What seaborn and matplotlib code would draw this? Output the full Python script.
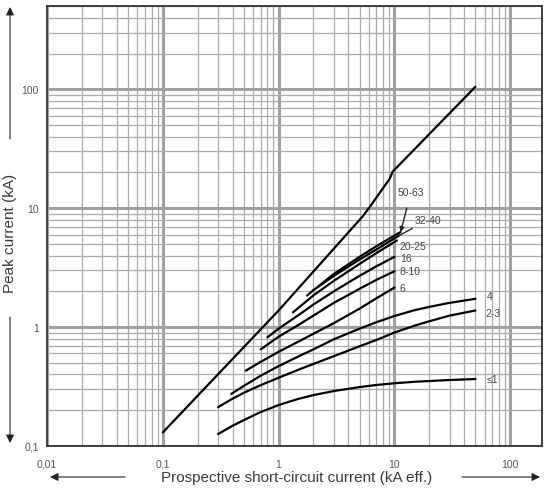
import matplotlib
matplotlib.use("Agg")
import matplotlib.pyplot as plt
import seaborn as sns
import pandas as pd
import numpy as np
from matplotlib.ticker import FixedLocator, LogLocator, NullFormatter

# ---------------- data ----------------
x_ticks = [0.01, 0.1, 1, 10, 100]
x_tick_labels = ["0,01", "0,1", "1", "10", "100"]
y_ticks = [0.1, 1, 10, 100]
y_tick_labels = ["0,1", "1", "10", "100"]

# unlimited peak line
main_x = [0.1, 1, 5.3, 6.1, 9.1, 9.65, 50]
main_y = [0.13, 1.38, 8.5, 10.2, 17.7, 20.3, 105]

c_le1_x = [0.3, 0.4, 0.5, 0.7, 1, 1.5, 2, 3, 5, 7, 10, 15, 20, 30, 50]
c_le1_y = [0.126, 0.148, 0.165, 0.193, 0.221, 0.25, 0.268, 0.29, 0.313, 0.326, 0.337, 0.347, 0.352, 0.359, 0.366]
c_23_x = [0.3, 0.4, 0.5, 0.7, 1, 1.5, 2, 3, 5, 7, 10, 15, 20, 30, 50]
c_23_y = [0.212, 0.25, 0.28, 0.325, 0.375, 0.44, 0.49, 0.57, 0.69, 0.78, 0.9, 1.03, 1.12, 1.25, 1.38]
c_4_x = [0.39, 0.5, 0.7, 1, 1.5, 2, 3, 5, 7, 10, 15, 20, 30, 50]
c_4_y = [0.274, 0.32, 0.39, 0.47, 0.57, 0.65, 0.79, 0.97, 1.1, 1.24, 1.39, 1.48, 1.6, 1.73]
c_6_x = [0.52, 0.7, 1, 1.5, 2, 3, 5, 7, 10]
c_6_y = [0.43, 0.51, 0.62, 0.76, 0.88, 1.08, 1.43, 1.75, 2.15]
c_810_x = [0.7, 1, 1.5, 2, 3, 5, 7, 10]
c_810_y = [0.65, 0.83, 1.05, 1.25, 1.6, 2.1, 2.5, 2.95]
c_16_x = [0.8, 1, 1.5, 2, 3, 5, 7, 10]
c_16_y = [0.82, 0.97, 1.27, 1.55, 2.0, 2.7, 3.25, 3.9]
c_2025_x = [1.33, 2, 3, 5, 7, 10.5]
c_2025_y = [1.33, 1.85, 2.45, 3.4, 4.2, 5.35]
c_3240_x = [1.76, 2, 3, 5, 7, 11]
c_3240_y = [1.84, 2.05, 2.7, 3.7, 4.5, 5.9]
c_5063_x = [2.2, 3, 5, 7, 11.3]
c_5063_y = [2.2, 2.8, 3.9, 4.8, 6.3]

curve_names = ["main", "≤1", "2-3", "4", "6", "8-10", "16", "20-25", "32-40", "50-63"]
curve_xs = [main_x, c_le1_x, c_23_x, c_4_x, c_6_x, c_810_x, c_16_x, c_2025_x, c_3240_x, c_5063_x]
curve_ys = [main_y, c_le1_y, c_23_y, c_4_y, c_6_y, c_810_y, c_16_y, c_2025_y, c_3240_y, c_5063_y]

rows = []
for name, xs, ys in zip(curve_names, curve_xs, curve_ys):
    for i, (xv, yv) in enumerate(zip(xs, ys)):
        rows.append({"curve": name, "order": i, "x": xv, "y": yv})
df = pd.DataFrame(rows)

# ---------------- style ----------------
sns.set_style("white")
plt.rcParams["font.family"] = ["Liberation Sans", "DejaVu Sans"]

W, H = 548, 489
fig = plt.figure(figsize=(W / 100, H / 100), dpi=100)
L, R, T, B = 47, 542, 6.7, 447
ax = fig.add_axes([L / W, 1 - B / H, (R - L) / W, (B - T) / H])

ax.set_xscale("log")
ax.set_yscale("log")
ax.set_xlim(0.01, 188)
ax.set_ylim(0.1, 505)

# grid
ax.xaxis.set_minor_locator(LogLocator(base=10, subs=np.arange(2, 10), numticks=50))
ax.yaxis.set_minor_locator(LogLocator(base=10, subs=np.arange(2, 10), numticks=50))
ax.xaxis.set_minor_formatter(NullFormatter())
ax.yaxis.set_minor_formatter(NullFormatter())
ax.grid(which="major", color="#a0a0a0", linewidth=2.2)
ax.grid(which="minor", color="#aaaaaa", linewidth=0.9)
ax.set_axisbelow(True)

sns.lineplot(data=df, x="x", y="y", units="curve", estimator=None, sort=False,
             color="black", linewidth=1.6, ax=ax, legend=False)

ax.xaxis.set_major_locator(FixedLocator(x_ticks))
ax.yaxis.set_major_locator(FixedLocator(y_ticks))
ax.set_xticklabels(x_tick_labels)
ax.set_yticklabels(y_tick_labels)
ax.tick_params(which="both", length=0, labelsize=7.5, labelcolor="#555555")
ax.tick_params(axis="x", pad=9)
ax.tick_params(axis="y", pad=6)
ax.set_xlabel("")
ax.set_ylabel("")
for s in ax.spines.values():
    s.set_visible(True)
    s.set_color("#333333")
    s.set_linewidth(1.3)

# curve labels
lab_kw = dict(textcoords="offset points", fontsize=7.5, color="#444444", ha="left", va="center")
ends = {n: (xs[-1], ys[-1]) for n, xs, ys in zip(curve_names, curve_xs, curve_ys)}
ax.annotate("≤1", xy=ends["≤1"], xytext=(8, 0), **lab_kw)
ax.annotate("2-3", xy=ends["2-3"], xytext=(7, -2), **lab_kw)
ax.annotate("4", xy=ends["4"], xytext=(8, 2), **lab_kw)
ax.annotate("6", xy=ends["6"], xytext=(4, 0), **lab_kw)
ax.annotate("8-10", xy=ends["8-10"], xytext=(4, 0), **lab_kw)
ax.annotate("16", xy=ends["16"], xytext=(4, -1), **lab_kw)
ax.annotate("20-25", xy=ends["20-25"], xytext=(2, -4), **lab_kw)
ax.annotate("32-40", xy=ends["32-40"], xytext=(11, 11),
            arrowprops=dict(arrowstyle="-", color="#222222", lw=1.0,
                            shrinkA=0, shrinkB=0), **lab_kw)
ax.annotate("50-63", xy=ends["50-63"], xytext=(-2, 29),
            arrowprops=dict(arrowstyle="-|>", color="#222222", lw=1.0,
                            mutation_scale=7, shrinkA=6, shrinkB=0), **lab_kw)

# axis titles with arrows
txt_col = "#3a3a3a"
fig.text(10 / W, 1 - 233 / H, "Peak current (kA)", rotation=90, ha="center", va="center",
         fontsize=11, color=txt_col)
fig.text(297 / W, 1 - 478 / H, "Prospective short-circuit current (kA eff.)",
         ha="center", va="center", fontsize=11, color=txt_col)

arr = dict(arrowstyle="-|>", color="#222222", lw=0.8, mutation_scale=12,
           shrinkA=0, shrinkB=0)
for (x0, y0, x1, y1) in [(10, 140, 10, 8), (10, 318, 10, 444),
                         (125, 478, 50, 478), (462, 478, 540, 478)]:
    ax.annotate("", xy=(x1, H - y1), xytext=(x0, H - y0), xycoords="figure pixels",
                textcoords="figure pixels", arrowprops=arr, annotation_clip=False)

fig.savefig("out.png", dpi=100)
